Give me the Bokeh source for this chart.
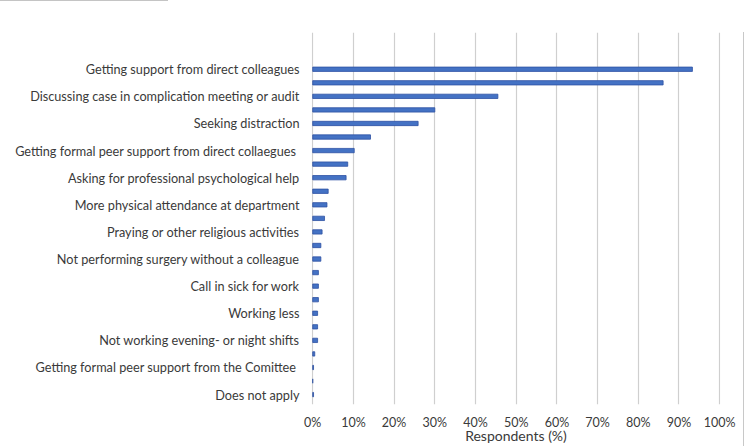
from bokeh.plotting import figure
from bokeh.models import (ColumnDataSource, Range1d, FixedTicker, Div, Spacer,
                          NumeralTickFormatter)
from bokeh.layouts import column, row
from bokeh.embed import file_html
from bokeh.resources import INLINE

# Coping strategies: one row per bar, top to bottom (shares in %)
values = [93.3, 86.1, 45.5, 30.0, 25.9, 14.2, 10.2, 8.6, 8.2, 3.8, 3.5, 2.9,
          2.3, 2.0, 2.0, 1.4, 1.4, 1.4, 1.2, 1.2, 1.2, 0.5, 0.2, 0.0, 0.2]

# Names shown on the axis (every second row carries a label)
labels = [
    "Getting support from direct colleagues",
    "Discussing case in complication meeting or audit",
    "Seeking distraction",
    "Getting formal peer support from direct collaegues ",
    "Asking for professional psychological help",
    "More physical attendance at department",
    "Praying or other religious activities",
    "Not performing surgery without a colleague",
    "Call in sick for work",
    "Working less",
    "Not working evening- or night shifts",
    "Getting formal peer support from the Comittee ",
    "Does not apply",
]
label_rows = list(range(0, len(values), 2))

x_ticks = [0, 10, 20, 30, 40, 50, 60, 70, 80, 90, 100]

src = ColumnDataSource(dict(
    row=list(range(len(values))),
    share=[v / 100 for v in values],
))

FONT = "Lato"
TXT = "#3a3a3a"

p = figure(
    width=743, height=414,
    output_backend="svg", toolbar_location=None,
    x_range=Range1d(-0.003, 1.002),
    y_range=Range1d(24.73, -2.71),
    min_border_left=311, min_border_right=23,
    min_border_top=0, min_border_bottom=40,
    margin=0,
)
p.outline_line_color = None
p.background_fill_color = "white"
p.border_fill_color = "white"

p.hbar(y="row", right="share", left=0, height=0.32, source=src,
       fill_color="#4472C4", line_color="#2d51a3", line_width=0.8)

# x axis: percentages
xa = p.xaxis[0]
xa.ticker = FixedTicker(ticks=[t / 100 for t in x_ticks])
xa.formatter = NumeralTickFormatter(format="0%")
xa.axis_line_color = None
xa.major_tick_line_color = None
xa.minor_tick_line_color = None
xa.major_tick_out = 0
xa.major_tick_in = 0
xa.major_label_standoff = 10
xa.major_label_text_font = FONT
xa.major_label_text_font_size = "12.5px"
xa.major_label_text_color = TXT
xa.axis_label = "Respondents (%)"
xa.axis_label_text_font = FONT
xa.axis_label_text_font_style = "normal"
xa.axis_label_text_font_size = "14px"
xa.axis_label_text_color = TXT
xa.axis_label_standoff = -6

# y axis: labelled rows
ya = p.yaxis[0]
ya.ticker = FixedTicker(ticks=label_rows)
ya.major_label_overrides = {r: lab for r, lab in zip(label_rows, labels)}
ya.axis_line_color = None
ya.major_tick_line_color = None
ya.minor_tick_line_color = None
ya.major_tick_out = 0
ya.major_tick_in = 0
ya.major_label_standoff = 12
ya.major_label_text_font = FONT
ya.major_label_text_font_size = "12.7px"
ya.major_label_text_color = TXT

p.ygrid.grid_line_color = None
p.xgrid.grid_line_color = "#cfcfcf"
p.xgrid.grid_line_width = 1.2

# thin rule at the top-left and border line on the right
top_rule = Div(width=168, height=1, text="", margin=0,
               styles={"background-color": "#c4c4c4"})
edge = Div(width=1, height=414, text="", margin=0,
           styles={"background-color": "#c8c8c8"})

layout = column(top_rule, Spacer(width=744, height=31, margin=0),
                row(p, edge, spacing=0, margin=0), spacing=0, margin=0)

open("out.html", "w").write(file_html(layout, INLINE))
